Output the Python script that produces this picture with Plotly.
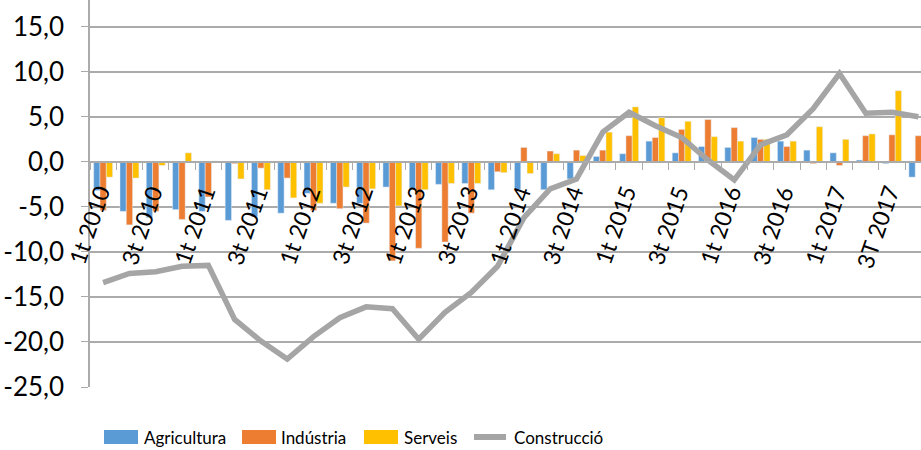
import plotly.graph_objects as go

# Trimestres 2010-2017
quarters = [
    "1t 2010", "2t 2010", "3t 2010", "4t 2010",
    "1t 2011", "2t 2011", "3t 2011", "4t 2011",
    "1t 2012", "2t 2012", "3t 2012", "4t 2012",
    "1t 2013", "2t 2013", "3t 2013", "4t 2013",
    "1t 2014", "2t 2014", "3t 2014", "4t 2014",
    "1t 2015", "2t 2015", "3t 2015", "4t 2015",
    "1t 2016", "2t 2016", "3t 2016", "4t 2016",
    "1t 2017", "2t 2017", "3T 2017", "4t 2017",
]

agricultura = [-3.2, -5.5, -6.2, -5.3, -5.5, -6.5, -6.1, -5.7,
               -3.5, -4.6, -4.6, -2.8, -3.0, -2.5, -2.4, -3.1,
               -3.1, -3.1, -1.9, 0.6, 0.9, 2.3, 1.0, 1.7,
               1.6, 2.7, 2.3, 1.3, 1.0, 0.2, -0.2, -1.7]
industria = [-5.4, -7.0, -5.5, -6.4, -3.9, -0.2, -0.7, -1.8,
             -5.4, -5.2, -6.8, -11.0, -9.6, -8.9, -5.7, -1.1,
             1.6, 1.2, 1.3, 1.3, 2.9, 2.7, 3.6, 4.7,
             3.8, 2.5, 1.7, -0.2, -0.4, 2.9, 3.0, 2.9]
serveis = [-1.7, -1.8, -0.4, 1.0, 0.1, -1.9, -3.1, -4.0,
           -4.6, -2.8, -3.0, -4.9, -3.1, -2.4, -2.4, -1.2,
           -1.3, 0.9, 0.7, 3.3, 6.1, 4.9, 4.5, 2.8,
           2.3, 2.5, 2.3, 3.9, 2.5, 3.1, 7.9, 3.0]
construccio = [-13.4, -12.4, -12.2, -11.6, -11.5, -17.5, -19.9, -21.9,
               -19.4, -17.3, -16.1, -16.3, -19.7, -16.7, -14.5, -11.6,
               -6.2, -3.0, -1.9, 3.3, 5.5, 4.0, 2.7, 0.2,
               -2.0, 1.9, 3.0, 5.9, 9.8, 5.4, 5.5, 5.0]

y_ticks = [-25, -20, -15, -10, -5, 0, 5, 10, 15]
y_ticktext = ["-25,0", "-20,0", "-15,0", "-10,0", "-5,0", "0,0", "5,0", "10,0", "15,0"]

# etiquetes de l'eix x: una de cada dues
x_labels = quarters[::2]

series_names = ["Agricultura", "Indústria", "Serveis", "Construcció"]
series_colors = ["#5B9BD5", "#ED7D31", "#FFC000", "#A5A5A5"]

W, H = 921, 450
ML, MR, MT, MB = 90, 0, 0, 63
y_min, y_max = -25, 17.97
grid = "#ababab"

fig = go.Figure()

for name, vals, col in zip(series_names[:3], [agricultura, industria, serveis], series_colors[:3]):
    fig.add_trace(go.Bar(x=quarters, y=vals, name=name, marker_color=col))

fig.add_trace(go.Scatter(x=quarters, y=construccio, name="Construcció", mode="lines",
                         line=dict(color=series_colors[3], width=5.5)))

plot_w = W - ML - MR
plot_h = H - MT - MB


def px_x(px):
    return (px - ML) / plot_w


def px_y(py):
    return (H - MB - py) / plot_h


annotations = []

# etiquetes de categoria girades, penjant de la línia del zero
for lab in x_labels:
    annotations.append(dict(text=lab, x=lab, y=0, xref="x", yref="y",
                            xanchor="right", yanchor="top", textangle=-71,
                            xshift=15, yshift=-18, showarrow=False,
                            font=dict(size=23, color="black")))

# llegenda a mida (mostres amples com a l'original)
legend_pos = [(104, 142), (242, 279), (364, 402), (472, 512)]
leg_y = 437
shapes = []
for i, (name, col) in enumerate(zip(series_names, series_colors)):
    sx, tx = legend_pos[i]
    if i < 3:
        shapes.append(dict(type="rect", xref="paper", yref="paper",
                           x0=px_x(sx), x1=px_x(sx + 34), y0=px_y(leg_y + 7), y1=px_y(leg_y - 7),
                           fillcolor=col, line=dict(width=0)))
    else:
        shapes.append(dict(type="line", xref="paper", yref="paper",
                           x0=px_x(sx + 2), x1=px_x(sx + 34), y0=px_y(leg_y), y1=px_y(leg_y),
                           line=dict(color=col, width=6)))
    annotations.append(dict(text=name, xref="paper", yref="paper", x=px_x(tx), y=px_y(leg_y),
                            xanchor="left", yanchor="middle", showarrow=False,
                            font=dict(size=17, color="black")))

fig.update_layout(
    width=W,
    height=H,
    margin=dict(l=ML, r=MR, t=MT, b=MB),
    paper_bgcolor="white",
    plot_bgcolor="white",
    barmode="group",
    bargap=0.28,
    bargroupgap=0,
    font=dict(family="Lato", color="black"),
    showlegend=False,
    shapes=shapes,
    annotations=annotations,
)

fig.update_xaxes(
    type="category",
    range=[-0.5, 31.1],
    anchor="free",
    position=(0 - y_min) / (y_max - y_min),  # eix horitzontal a 0
    automargin=False,
    showticklabels=False,
    ticks="outside",
    tickson="boundaries",
    ticklen=7,
    tickcolor=grid,
    showline=True,
    linecolor=grid,
    linewidth=1.5,
    showgrid=False,
)

fig.update_yaxes(
    range=[y_min, y_max],
    automargin=False,
    tickmode="array",
    tickvals=y_ticks,
    ticktext=y_ticktext,
    tickfont=dict(size=26),
    ticks="outside",
    ticklen=7,
    tickcolor=grid,
    ticklabelstandoff=12,
    showline=True,
    linecolor=grid,
    linewidth=1.5,
    showgrid=True,
    gridcolor=grid,
    gridwidth=1.5,
    zeroline=False,
)

fig.write_html("out.html", config={"displayModeBar": False},
               post_script="document.body.style.margin='0';")
